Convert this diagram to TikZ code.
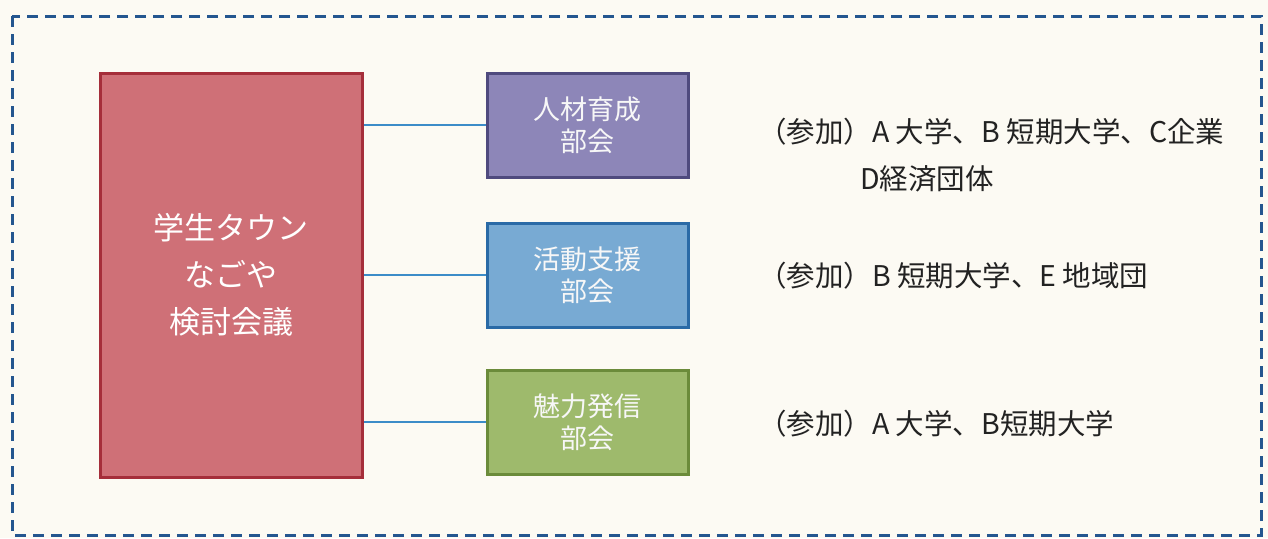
\documentclass[tikz,border=0pt]{standalone}
\usepackage{fontspec}
\newfontfamily\jp{Noto Sans CJK JP}
\definecolor{bgc}{HTML}{FCFAF3}
\definecolor{frameblue}{HTML}{24568F}
\definecolor{redfill}{HTML}{CF7077}
\definecolor{redline}{HTML}{A52E3A}
\definecolor{purfill}{HTML}{8D86B8}
\definecolor{purline}{HTML}{4F4A7E}
\definecolor{bluefill}{HTML}{78AAD3}
\definecolor{blueline}{HTML}{2A6AA6}
\definecolor{grnfill}{HTML}{9EBA6C}
\definecolor{grnline}{HTML}{6B8B3A}
\definecolor{conn}{HTML}{3C8CC8}
\definecolor{txt}{HTML}{222222}
\tikzset{
  mainbox/.style={draw=redline, fill=redfill, line width=3pt, minimum width=262pt, minimum height=404pt,
    text=white, align=center, font=\jp\fontsize{31}{47}\selectfont, inner sep=0pt},
  subbox/.style={line width=3pt, minimum width=201pt, minimum height=104pt,
    text=white!94!gray, align=center, font=\jp\fontsize{27}{32}\selectfont, inner sep=0pt},
  member/.style={anchor=west, text=txt, font=\jp\fontsize{28.5}{32}\selectfont, inner sep=0pt},
  link/.style={draw=conn, line width=1.4pt}
}
\begin{document}
\begin{tikzpicture}[x=1pt,y=-1pt]
\useasboundingbox (0,0) rectangle (1268,538);
\fill[bgc] (0,0) rectangle (1268,538);
\draw[frameblue, line width=3pt, dash pattern=on 11pt off 7pt] (12,16) rectangle (1261,535);
\node[mainbox] (main) at (231,275) {学生タウン\\なごや\\検討会議};
\node[subbox, draw=purline, fill=purfill] (jinzai) at (587.5,125) {人材育成\\部会};
\node[subbox, draw=blueline, fill=bluefill] (katsudo) at (587.5,275) {活動支援\\部会};
\node[subbox, draw=grnline, fill=grnfill] (miryoku) at (587.5,422) {魅力発信\\部会};
\coordinate (m1) at (main.east |- jinzai.west);
\coordinate (m2) at (main.east |- katsudo.west);
\coordinate (m3) at (main.east |- miryoku.west);
\draw[link] (m1) -- (jinzai.west);
\draw[link] (m2) -- (katsudo.west);
\draw[link] (m3) -- (miryoku.west);
\node[member] (t1) at (758,132) {（参加）A 大学、B 短期大学、C企業};
\node[member] (t1b) at (860,179) {D経済団体};
\node[member] (t2) at (758,276) {（参加）B 短期大学、E 地域団};
\node[member] (t3) at (758,424) {（参加）A 大学、B短期大学};
\end{tikzpicture}
\end{document}
